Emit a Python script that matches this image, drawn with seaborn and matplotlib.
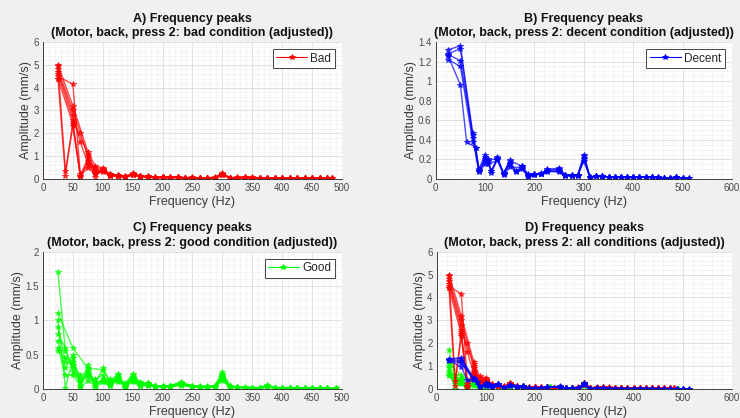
import matplotlib
matplotlib.use("Agg")
import matplotlib.pyplot as plt
from matplotlib.lines import Line2D
from matplotlib.ticker import MultipleLocator, AutoMinorLocator, FuncFormatter
import numpy as np
import pandas as pd
import seaborn as sns

N = None

# ---- Bad condition: peak frequencies (Hz) and amplitudes per measurement ----
bad_freq = [25, 37.5, 50, 62.5, 75, 87.5, 100, 112.5, 125, 137.5, 150, 162.5, 175,
            187.5, 200, 212.5, 225, 237.5, 250, 262.5, 275, 287.5, 300, 312.5, 325,
            337.5, 350, 362.5, 375, 387.5, 400, 412.5, 425, 437.5, 450, 462.5, 475, 483]
bad_amps = [
    [5.00, N, 3.20, N, 1.20, 0.55, 0.50, 0.20, 0.18, 0.12, 0.25, 0.14, 0.12, 0.07, 0.09, 0.08, 0.09, 0.06, 0.07,
     0.05, 0.06, 0.07, 0.24, 0.06, 0.07, 0.08, 0.07, 0.06, 0.06, 0.05, 0.06, 0.05, 0.05, 0.06, 0.05, 0.04, 0.05, 0.05],
    [4.40, 0.15, 2.50, 0.15, 0.90, 0.10, 0.45, 0.15, 0.14, 0.08, 0.20, 0.10, 0.10, 0.06, 0.07, 0.06, 0.08, 0.05, 0.06,
     0.04, 0.05, 0.05, 0.20, 0.04, 0.05, 0.06, 0.05, 0.05, 0.04, 0.04, 0.05, 0.04, 0.04, 0.05, 0.04, N, N, N],
    [4.50, N, 4.15, 0.20, 0.60, 0.30, 0.40, 0.18, 0.15, 0.10, 0.22, 0.12, 0.11, 0.06, 0.08, 0.07, 0.07, 0.05, 0.06,
     0.05, 0.05, 0.06, 0.22, 0.05, 0.06, 0.07, 0.06, 0.05, 0.05, 0.05, 0.05, 0.05, 0.04, 0.05, 0.04, 0.04, 0.04, N],
    [4.80, N, 3.00, 2.00, 1.00, 0.40, 0.35, 0.15, 0.12, 0.08, 0.18, 0.10, 0.09, 0.05, 0.07, 0.06, 0.07, 0.05, 0.05,
     0.04, 0.05, 0.05, 0.18, 0.05, 0.05, 0.06, 0.05, 0.04, 0.05, 0.04, 0.04, 0.04, 0.04, 0.04, 0.03, 0.04, 0.04, 0.04],
    [4.95, 0.35, 2.30, 0.10, 0.80, 0.30, 0.40, 0.20, 0.16, 0.11, 0.24, 0.13, 0.10, 0.07, 0.08, 0.07, 0.08, 0.06, 0.06,
     0.05, 0.06, 0.06, 0.25, 0.06, 0.06, 0.07, 0.06, 0.05, 0.06, 0.05, 0.05, 0.05, 0.05, 0.05, 0.05, 0.05, N, N],
    [4.70, N, 2.80, 1.60, 0.70, 0.50, 0.40, 0.17, 0.14, 0.09, 0.21, 0.11, 0.10, 0.06, 0.07, 0.06, 0.07, 0.05, 0.05,
     0.04, 0.05, 0.05, 0.21, 0.05, 0.05, 0.06, 0.05, 0.05, 0.05, 0.04, 0.05, 0.04, 0.04, 0.05, 0.04, 0.04, 0.04, 0.04],
    [4.60, N, 2.60, N, 1.10, 0.25, 0.30, 0.16, 0.13, 0.07, 0.19, 0.11, 0.09, 0.06, 0.07, 0.05, 0.07, 0.05, 0.05,
     0.04, 0.05, 0.05, 0.19, 0.05, 0.05, 0.06, 0.05, 0.05, 0.04, 0.04, 0.04, 0.04, 0.04, 0.04, 0.04, 0.03, 0.04, N],
    [4.40, N, 2.40, 0.12, 0.50, 0.20, 0.35, 0.14, 0.12, 0.08, 0.17, 0.10, 0.09, 0.05, 0.06, 0.05, 0.06, 0.04, 0.05,
     0.04, 0.04, 0.05, 0.17, 0.04, 0.05, 0.05, 0.05, 0.04, 0.04, 0.04, 0.04, 0.04, 0.03, 0.04, 0.03, 0.03, 0.03, 0.03],
]

# ---- Decent condition ----
decent_freq = [25, 50, 62.5, 75, 81, 87.5, 100, 106, 112.5, 125, 137.5, 150, 162.5, 175, 187.5, 200, 212.5,
               225, 250, 262.5, 275, 287.5, 300, 312.5, 325, 337.5, 350, 362.5, 375, 387.5, 400, 412.5,
               425, 437.5, 450, 462.5, 475, 487.5, 500, 512.5]
decent_amps = [
    [1.32, 1.36, N, 0.47, N, 0.10, 0.25, N, 0.08, 0.22, 0.06, 0.19, N, 0.13, 0.03, 0.05, 0.05, 0.10, 0.11, 0.04,
     0.03, 0.04, 0.25, 0.02, 0.03, 0.03, 0.02, 0.02, 0.02, 0.02, 0.02, 0.02, 0.02, 0.02, 0.01, 0.01, 0.01, 0.02, 0.01, 0.01],
    [1.26, 0.96, 0.38, N, 0.32, 0.08, 0.15, 0.20, N, 0.20, 0.05, 0.15, 0.07, 0.10, 0.02, 0.04, 0.05, 0.08, 0.07, 0.04,
     0.04, 0.03, 0.20, 0.01, 0.03, 0.03, 0.02, 0.02, 0.02, 0.02, 0.02, 0.02, 0.02, 0.02, 0.02, 0.01, 0.01, 0.02, 0.01, N],
    [1.28, 1.33, N, 0.42, N, 0.07, 0.20, 0.18, 0.08, 0.21, 0.04, 0.12, N, 0.12, 0.05, 0.05, 0.06, 0.07, 0.09, 0.03,
     0.04, 0.04, 0.21, 0.02, 0.03, 0.03, 0.02, 0.02, 0.02, 0.02, 0.02, 0.02, 0.02, 0.02, 0.02, 0.01, 0.01, 0.02, N, N],
    [1.22, 1.15, N, 0.38, 0.32, 0.09, 0.18, 0.15, N, 0.19, 0.05, 0.16, 0.08, 0.11, 0.03, 0.05, 0.05, 0.09, 0.10, 0.04,
     0.03, 0.04, 0.18, 0.02, 0.03, 0.03, 0.02, 0.02, 0.02, 0.02, 0.02, 0.02, 0.02, 0.02, 0.01, 0.01, 0.01, 0.01, 0.01, 0.01],
    [1.27, 1.21, N, 0.45, N, 0.08, 0.22, 0.17, 0.06, 0.20, 0.06, 0.18, 0.08, 0.13, 0.04, 0.04, 0.05, 0.08, 0.08, 0.03,
     0.03, 0.03, 0.23, 0.02, 0.03, 0.02, 0.02, 0.02, 0.02, 0.01, 0.02, 0.02, 0.02, 0.02, 0.01, 0.01, 0.01, 0.02, 0.01, N],
]

# ---- Good condition ----
good_freq = [25, 37.5, 50, 62.5, 75, 87.5, 100, 112.5, 125, 137.5, 150, 162.5, 175, 187.5, 200, 212.5, 230,
             250, 262.5, 275, 287.5, 300, 312.5, 325, 337.5, 350, 362.5, 375, 387.5, 400, 412.5, 425,
             437.5, 450, 462.5, 475, 490]
good_amps = [
    [1.70, 0.55, 0.30, 0.10, 0.20, 0.08, 0.10, 0.06, 0.15, 0.05, 0.18, 0.08, 0.07, 0.04, 0.03, 0.04, 0.08, 0.04, 0.03,
     0.03, 0.04, 0.22, 0.04, 0.03, 0.02, 0.02, 0.02, 0.05, 0.02, 0.02, 0.02, 0.01, 0.02, 0.01, 0.01, 0.01, 0.01],
    [1.10, N, 0.60, N, 0.30, N, 0.28, 0.12, 0.20, 0.08, 0.22, 0.10, 0.08, 0.05, 0.04, 0.05, 0.10, 0.05, 0.04,
     0.03, 0.05, 0.25, 0.05, 0.03, 0.03, 0.02, 0.02, 0.06, 0.02, 0.02, 0.02, 0.02, 0.02, 0.02, 0.01, 0.01, N],
    [1.00, 0.02, 0.45, 0.05, 0.35, 0.05, 0.15, 0.10, 0.22, 0.02, 0.15, 0.06, 0.09, 0.04, 0.04, 0.04, 0.07, 0.04, 0.03,
     0.03, 0.04, 0.18, 0.03, 0.03, 0.02, 0.02, 0.02, 0.04, 0.02, 0.02, 0.01, 0.01, 0.01, 0.01, 0.01, 0.01, 0.01],
    [0.90, 0.40, 0.35, 0.20, 0.25, 0.10, 0.12, 0.08, 0.18, 0.05, 0.20, 0.07, 0.08, 0.05, 0.03, 0.05, 0.09, 0.05, 0.03,
     0.04, 0.04, 0.20, 0.04, 0.03, 0.02, 0.02, 0.02, 0.05, 0.02, 0.02, 0.02, 0.02, 0.01, 0.02, 0.01, N, N],
    [0.80, 0.60, 0.25, 0.10, 0.18, 0.15, 0.20, 0.05, 0.12, 0.04, 0.14, 0.05, 0.06, 0.03, 0.03, 0.03, 0.06, 0.03, 0.03,
     0.02, 0.03, 0.15, 0.03, 0.02, 0.02, 0.02, 0.01, 0.04, 0.01, 0.01, 0.01, 0.01, 0.01, 0.01, 0.01, 0.01, N],
    [0.70, 0.30, 0.50, 0.02, 0.12, 0.05, 0.12, 0.15, 0.10, 0.06, 0.16, 0.09, 0.07, 0.04, 0.04, 0.04, 0.08, 0.04, 0.03,
     0.03, 0.04, 0.19, 0.04, 0.03, 0.02, 0.02, 0.02, 0.05, 0.02, 0.02, 0.02, 0.01, 0.01, 0.01, 0.01, 0.01, 0.01],
    [0.60, 0.20, 0.20, 0.05, 0.28, 0.02, 0.10, 0.05, 0.14, 0.03, 0.12, 0.04, 0.06, 0.03, 0.03, 0.03, 0.05, 0.03, 0.02,
     0.02, 0.03, 0.12, 0.02, 0.02, 0.02, 0.01, 0.01, 0.03, 0.01, 0.01, 0.01, 0.01, 0.01, 0.01, 0.01, N, N],
    [0.55, 0.45, 0.40, 0.15, 0.22, 0.08, 0.30, 0.10, 0.16, 0.05, 0.10, 0.05, 0.05, 0.04, 0.04, 0.04, 0.07, 0.04, 0.03,
     0.03, 0.03, 0.16, 0.03, 0.03, 0.02, 0.02, 0.02, 0.04, 0.02, 0.02, 0.01, 0.01, 0.01, 0.01, 0.01, 0.01, 0.01],
]

colors = {"Bad": "#FF0000", "Decent": "#0000FF", "Good": "#00FF00"}


def to_long(label, freq, amps):
    rows = []
    for k, trace in enumerate(amps):
        for f, a in zip(freq, trace):
            if a is not None:
                rows.append((label, f"{label}{k}", f, a))
    return pd.DataFrame(rows, columns=["condition", "trace", "freq", "amp"])


data = {
    "Bad": to_long("Bad", bad_freq, bad_amps),
    "Decent": to_long("Decent", decent_freq, decent_amps),
    "Good": to_long("Good", good_freq, good_amps),
}

sns.set_theme(style="whitegrid")
plt.rcParams["font.family"] = ["Liberation Sans", "DejaVu Sans"]

fig = plt.figure(figsize=(7.4, 4.18), dpi=100, facecolor="#F0F0F0")

TXT = "#262626"
line_kw = dict(linewidth=1.0, marker="*", markersize=4, markeredgewidth=0.7, alpha=0.7)
num_fmt = FuncFormatter(lambda v, p: f"{v:g}")


def style_axes(ax, xmax, xstep, ymax, ystep, yminor, title):
    ax.set_facecolor("white")
    ax.set_xlim(0, xmax)
    ax.set_ylim(0, ymax)
    ax.xaxis.set_major_locator(MultipleLocator(xstep))
    ax.yaxis.set_major_locator(MultipleLocator(ystep))
    ax.xaxis.set_minor_locator(AutoMinorLocator(5))
    ax.yaxis.set_minor_locator(AutoMinorLocator(yminor))
    ax.xaxis.set_major_formatter(num_fmt)
    ax.yaxis.set_major_formatter(num_fmt)
    ax.grid(True, which="major", color="#DCDCDC", linewidth=0.6)
    ax.grid(True, which="minor", color="#F0F0F0", linewidth=0.5)
    ax.set_axisbelow(True)
    for s in ("top", "right"):
        ax.spines[s].set_visible(False)
    for s in ("left", "bottom"):
        ax.spines[s].set_color(TXT)
        ax.spines[s].set_linewidth(0.6)
    ax.tick_params(which="major", direction="in", length=2.5, width=0.5,
                   color=TXT, labelsize=7, labelcolor="#4A4A4A", pad=3)
    ax.tick_params(which="minor", length=0)
    ax.set_xlabel("Frequency (Hz)", fontsize=9, color="#3A3A3A", labelpad=2)
    ax.set_ylabel("Amplitude (mm/s)", fontsize=9, color="#3A3A3A", labelpad=1)
    ax.set_title(title, fontsize=9, fontweight="bold", color="#111111", pad=4, linespacing=1.3)


def draw(ax, cond):
    sns.lineplot(data=data[cond], x="freq", y="amp", units="trace", estimator=None,
                 color=colors[cond], markeredgecolor=colors[cond], markerfacecolor=colors[cond],
                 legend=False, ax=ax, **line_kw)


def add_legend(ax, cond):
    handle = Line2D([], [], color=colors[cond], linewidth=0.8, marker="*",
                    markersize=4, markeredgewidth=0.6)
    leg = ax.legend(handles=[handle], labels=[cond], loc="upper right", fontsize=8.5,
                    frameon=True, fancybox=False, framealpha=1, edgecolor=TXT,
                    borderpad=0.3, handlelength=2.6, handletextpad=0.3,
                    borderaxespad=0.6)
    leg.get_frame().set_linewidth(0.6)
    for t in leg.get_texts():
        t.set_color(TXT)


ax_a = fig.add_axes([0.0581, 0.5718, 0.404, 0.3278])
draw(ax_a, "Bad")
style_axes(ax_a, 500, 50, 6, 1, 5,
           "A) Frequency peaks\n(Motor, back, press 2: bad condition (adjusted))")
add_legend(ax_a, "Bad")

ax_b = fig.add_axes([0.5888, 0.5718, 0.4004, 0.3278])
draw(ax_b, "Decent")
style_axes(ax_b, 600, 100, 1.4, 0.2, 4,
           "B) Frequency peaks\n(Motor, back, press 2: decent condition (adjusted))")
add_legend(ax_b, "Decent")

ax_c = fig.add_axes([0.0581, 0.0694, 0.404, 0.3284])
draw(ax_c, "Good")
style_axes(ax_c, 500, 50, 2, 0.5, 5,
           "C) Frequency peaks\n(Motor, back, press 2: good condition (adjusted))")
add_legend(ax_c, "Good")

ax_d = fig.add_axes([0.5901, 0.0694, 0.399, 0.3284])
for cond in ["Good", "Bad", "Decent"]:
    draw(ax_d, cond)
style_axes(ax_d, 600, 100, 6, 1, 5,
           "D) Frequency peaks\n(Motor, back, press 2: all conditions (adjusted))")

fig.savefig("out.png", dpi=100, facecolor=fig.get_facecolor())
